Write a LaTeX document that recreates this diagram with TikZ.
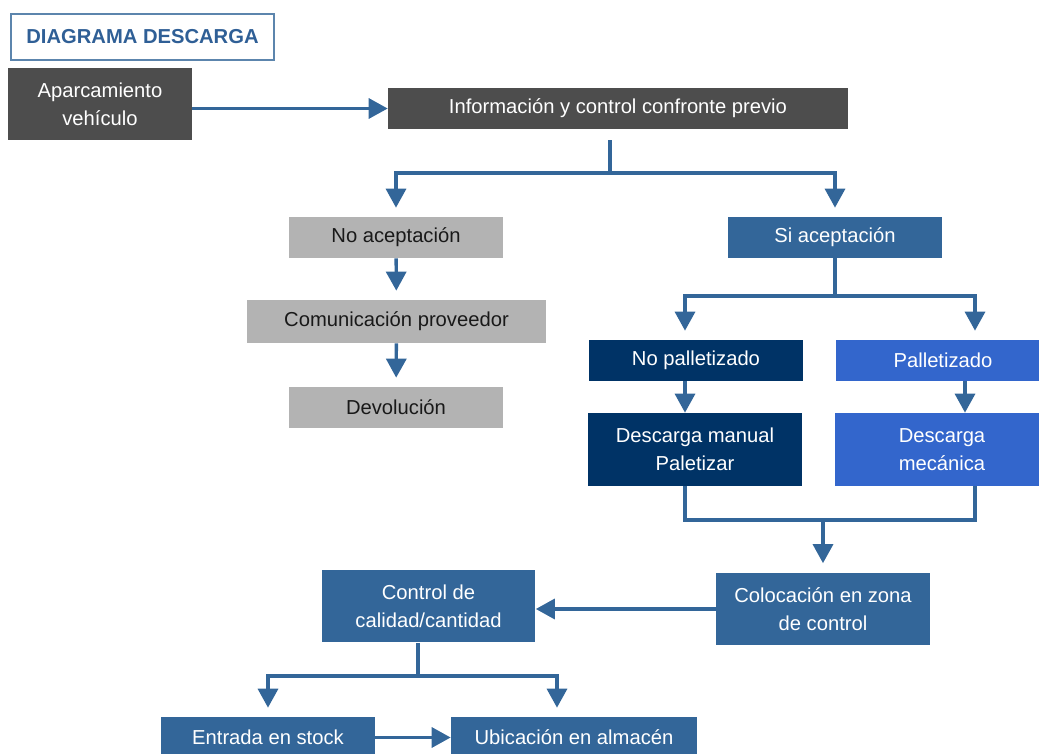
\documentclass[tikz,border=0pt]{standalone}
\usepackage{fontspec}
\setmainfont{Liberation Sans}
\usetikzlibrary{arrows.meta,positioning}
\definecolor{darkgray}{HTML}{4D4D4D}
\definecolor{lightgray}{HTML}{B3B3B3}
\definecolor{steelblue}{HTML}{336699}
\definecolor{navyblue}{HTML}{003366}
\definecolor{brightblue}{HTML}{3366CC}
\definecolor{titleblue}{HTML}{2F5F96}

\begin{document}
\begin{tikzpicture}[x=0.02cm,y=-0.02cm,
  box/.style={inner sep=0pt,align=center,text=white,minimum width=4.28cm,
    minimum height=0.82cm,font=\fontsize{11.5}{16}\selectfont},
  tall/.style={minimum height=1.46cm},
  conn/.style={draw=steelblue,line width=1.9pt},
  link/.style={conn,-{Triangle[width=0.4cm,length=0.38cm]}},
  gap/.style={shorten >=0.18cm}]
 \useasboundingbox (0,0) rectangle (1039,754);
 \clip (0,0) rectangle (1039,754);
 \node[draw=steelblue!80,line width=0.6pt,inner sep=0pt,minimum width=5.26cm,
   minimum height=0.92cm,text=titleblue,font=\bfseries\fontsize{11.5}{14}\selectfont]
   (title) at (142.5,37) {DIAGRAMA DESCARGA};
 \node[box,fill=darkgray,minimum width=3.68cm,minimum height=1.44cm] (aparc) at (100,104)
   {Aparcamiento\\vehículo};
 \node[box,fill=darkgray,minimum width=9.2cm] (info) at (618,108.5)
   {Información y control confronte previo};
 \node[box,fill=lightgray,text=black!90] (noacep) at (396,237.5) {No aceptación};
 \node[box,fill=lightgray,text=black!90,minimum width=5.98cm,minimum height=0.86cm]
   (comun) at (396.5,321.5) {Comunicación proveedor};
 \node[box,fill=lightgray,text=black!90] (devol) at (396,407.5) {Devolución};
 \node[box,fill=steelblue] (siacep) at (835,237.5) {Si aceptación};
 \node[box,fill=navyblue] (noplt) at (696,360.5) {No palletizado};
 \node[box,fill=brightblue] (plt) at (943,360.5) {Palletizado};
 \node[box,tall,fill=navyblue] (desman) at (695,449.5) {Descarga manual\\Paletizar};
 \node[box,tall,fill=brightblue] (desmec) at (942,449.5) {Descarga\\mecánica};
 \node[box,tall,fill=steelblue] (coloc) at (823,609) {Colocación en zona\\de control};
 \node[box,tall,fill=steelblue] (ctrl) at (428.5,606) {Control de\\calidad/cantidad};
 \node[box,fill=steelblue] (entrada) at (268,737.5) {Entrada en stock};
 \node[box,fill=steelblue,minimum width=4.92cm] (ubic) at (574,737.5) {Ubicación en almacén};

 \coordinate (j1) at (610,173);
 \coordinate (j2) at (835,296);
 \coordinate (j2l) at (685,296);
 \coordinate (j2r) at (975,296);
 \coordinate (j3) at (823,520);
 \coordinate (j4) at (418,676);

 \draw[link] (aparc.east |- info.west) -- (info.west);
 \draw[conn] (j1 |- info.south) ++(0,11) -- (j1);
 \draw[link,gap] (j1) -| (noacep.north);
 \draw[link,gap] (j1) -| (siacep.north);
 \draw[link,gap] (noacep) -- (comun);
 \draw[link,gap] (comun) -- (devol);
 \draw[conn] (siacep) -- (j2);
 \draw[link,gap] (j2) -- (j2l) -- (j2l |- noplt.north);
 \draw[link,gap] (j2) -- (j2r) -- (j2r |- plt.north);
 \draw[link] (j2l |- noplt.south) -- (j2l |- desman.north);
 \draw[link] (965,0 |- plt.south) -- (965,0 |- desmec.north);
 \draw[conn] (desman.south -| j2l) |- (j3) -| (desmec.south -| j2r);
 \draw[link,gap] (j3) -- (coloc.north);
 \draw[link] (coloc.west) -- (coloc.west -| ctrl.east);
 \draw[conn] (j4 |- ctrl.south) -- (j4);
 \draw[link,gap] (j4) -| (entrada.north);
 \draw[link,gap] (j4) -| (557,0 |- ubic.north);
 \draw[link] (entrada.east) -- (ubic.west);
\end{tikzpicture}
\end{document}
